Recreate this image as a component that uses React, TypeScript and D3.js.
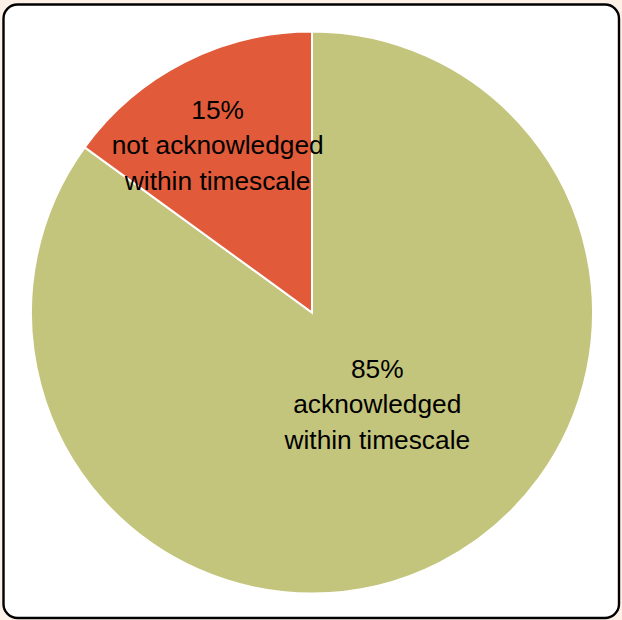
import React from "react";
import * as d3 from "d3";

// Share of items acknowledged within the target timescale
const categories = ["acknowledged\nwithin timescale", "not acknowledged\nwithin timescale"];
const values = [85, 15];
const colors = ["#c4c57c", "#e15a3a"];
// small nudges so labels sit nicely inside their slices
const labelRadius = [113, 188];
const labelShift = [[14, -9], [-9, 0]];

const W = 622;
const H = 620;
const cx = 312;
const cy = 312.5;
const R = 281;

export default function App() {
  // green slice runs clockwise from 12 o'clock, red fills the rest
  const pie = d3
    .pie<number>()
    .sort(null)
    .startAngle(0)
    .endAngle(2 * Math.PI)
    .value((d) => d);
  const arcs = pie(values);
  const arc = d3.arc<d3.PieArcDatum<number>>().innerRadius(0).outerRadius(R);

  return (
    <svg
      width={W}
      height={H}
      style={{ position: "absolute", left: 0, top: 0, display: "block" }}
      fontFamily="'Liberation Sans', Arial, sans-serif"
    >
      <rect x={0} y={0} width={W} height={H} fill="#fdf1e7" />
      <rect x={3.5} y={4.5} width={615.5} height={613.5} rx={14} fill="#ffffff" stroke="#000" strokeWidth={2.4} />
      <g transform={`translate(${cx},${cy})`}>
        {arcs.map((a, i) => (
          <path key={i} d={arc(a) || ""} fill={colors[i]} stroke="#ffffff" strokeWidth={2} />
        ))}
        {arcs.map((a, i) => {
          const mid = (a.startAngle + a.endAngle) / 2;
          const x = Math.sin(mid) * labelRadius[i] + labelShift[i][0];
          const y = -Math.cos(mid) * labelRadius[i] + labelShift[i][1];
          const lines = [`${values[i]}%`, ...categories[i].split("\n")];
          return (
            <text key={i} x={x} y={y} textAnchor="middle" fontSize={26.3} fill="#000">
              {lines.map((l, j) => (
                <tspan key={j} x={x} y={y + (j - 1) * 35.5 + 9}>
                  {l}
                </tspan>
              ))}
            </text>
          );
        })}
      </g>
    </svg>
  );
}
